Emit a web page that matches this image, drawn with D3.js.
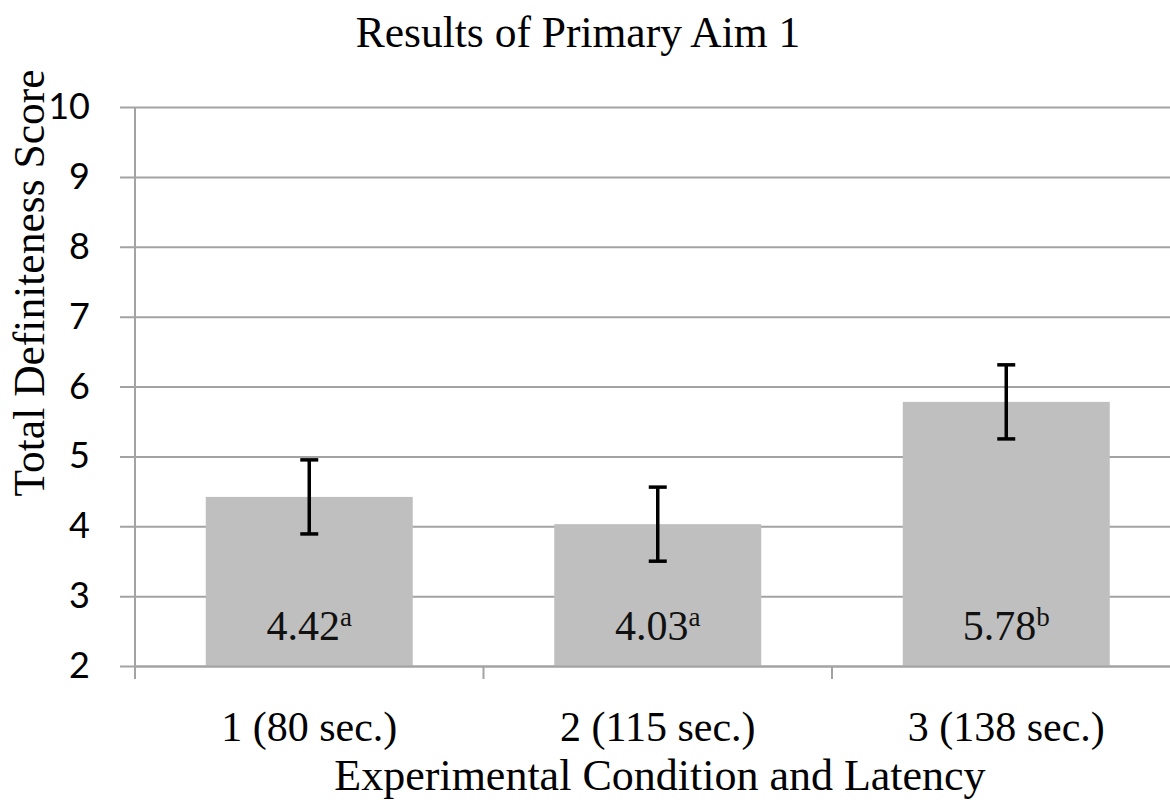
<!DOCTYPE html>
<html>
<head>
<meta charset="utf-8">
<script src="https://cdn.jsdelivr.net/npm/d3@7"></script>
<style>
  body { margin: 0; background: #fff; }
  svg { display: block; }
</style>
</head>
<body>
<svg id="chart"></svg>
<script>
// values
const categories = ["1 (80 sec.)", "2 (115 sec.)", "3 (138 sec.)"];
const means = [4.42, 4.03, 5.78];
const errors = [0.53, 0.53, 0.53];
const letters = ["a", "a", "b"];
const yTicks = [2, 3, 4, 5, 6, 7, 8, 9, 10];

const width = 1170, height = 802;
const margin = {top: 107, bottom: 136, left: 135, right: -10.5};
const serif = "'Liberation Serif', 'Times New Roman', serif";
const gridColor = "#a3a3a3";

const svg = d3.select("#chart")
  .attr("width", width)
  .attr("height", height);

const data = categories.map((c, i) => ({cat: c, mean: means[i], err: errors[i], letter: letters[i]}));

const x = d3.scaleBand()
  .domain(categories)
  .range([margin.left, width - margin.right])
  .padding(0);

const y = d3.scaleLinear()
  .domain([2, 10])
  .range([height - margin.bottom, margin.top]);

// y axis + gridlines
const yAxis = svg.append("g")
  .attr("transform", `translate(${margin.left},0)`)
  .call(d3.axisLeft(y).tickValues(yTicks).tickFormat(d3.format("d"))
    .tickSizeInner(-(width - margin.right - margin.left)).tickSizeOuter(0));
yAxis.select(".domain").attr("stroke", gridColor).attr("stroke-width", 2)
  .attr("d", `M0,${y(10)}V${y(2) + 13}`);
yAxis.selectAll(".tick line").attr("stroke", gridColor).attr("stroke-width", 2).attr("x1", -15);
yAxis.selectAll(".tick text")
  .style("font-family", "Lato, 'Open Sans', sans-serif")
  .style("font-size", "36px")
  .attr("fill", "#000")
  .attr("x", -45);

// bars
const barW = x.bandwidth() * 0.594;
svg.append("g").selectAll("rect")
  .data(data)
  .join("rect")
  .attr("x", d => x(d.cat) + (x.bandwidth() - barW) / 2)
  .attr("y", d => y(d.mean))
  .attr("width", barW)
  .attr("height", d => y(2) - y(d.mean))
  .attr("fill", "#bfbfbf");

// x axis drawn over bars
const xAxis = svg.append("g")
  .attr("transform", `translate(0,${y(2)})`)
  .call(d3.axisBottom(x).tickSize(0).tickPadding(45));
xAxis.select(".domain").attr("stroke", gridColor).attr("stroke-width", 2);
xAxis.selectAll(".tick text")
  .style("font-family", serif)
  .style("font-size", "42px")
  .attr("fill", "#000");
// category boundary ticks
const bounds = categories.map(c => x(c)).concat([x(categories[categories.length - 1]) + x.bandwidth()]);
xAxis.selectAll(".bound")
  .data(bounds)
  .join("line")
  .attr("class", "bound")
  .attr("x1", d => d).attr("x2", d => d)
  .attr("y1", 0).attr("y2", 13)
  .attr("stroke", gridColor).attr("stroke-width", 2);

// error bars
const cap = 9;
const eb = svg.append("g").attr("stroke", "#000").attr("stroke-width", 3.5);
data.forEach(d => {
  const cx = x(d.cat) + x.bandwidth() / 2;
  eb.append("line").attr("x1", cx).attr("x2", cx).attr("y1", y(d.mean + d.err)).attr("y2", y(d.mean - d.err));
  eb.append("line").attr("x1", cx - cap).attr("x2", cx + cap).attr("y1", y(d.mean + d.err)).attr("y2", y(d.mean + d.err));
  eb.append("line").attr("x1", cx - cap).attr("x2", cx + cap).attr("y1", y(d.mean - d.err)).attr("y2", y(d.mean - d.err));
});

// value labels with superscript letters
const labels = svg.append("g")
  .style("font-family", serif)
  .selectAll("text")
  .data(data)
  .join("text")
  .attr("x", d => x(d.cat) + x.bandwidth() / 2)
  .attr("y", y(2) - 26)
  .attr("text-anchor", "middle")
  .style("font-family", serif)
  .style("font-size", "42px")
  .attr("fill", "#111");
labels.append("tspan").style("font-family", serif).text(d => d.mean.toFixed(2));
labels.append("tspan").style("font-family", serif).style("font-size", "27px").attr("dy", -14).text(d => d.letter);

// title
svg.append("text")
  .attr("x", 578)
  .attr("y", 47)
  .attr("text-anchor", "middle")
  .style("font-family", serif)
  .style("font-size", "43.5px")
  .attr("fill", "#000")
  .text("Results of Primary Aim 1");

// x title
svg.append("text")
  .attr("x", 660)
  .attr("y", 790)
  .attr("text-anchor", "middle")
  .style("font-family", serif)
  .style("font-size", "44px")
  .attr("fill", "#000")
  .text("Experimental Condition and Latency");

// y title
svg.append("text")
  .attr("transform", "translate(44,283) rotate(-90)")
  .attr("text-anchor", "middle")
  .style("font-family", serif)
  .style("font-size", "43.5px")
  .attr("fill", "#000")
  .text("Total Definiteness Score");
</script>
</body>
</html>
